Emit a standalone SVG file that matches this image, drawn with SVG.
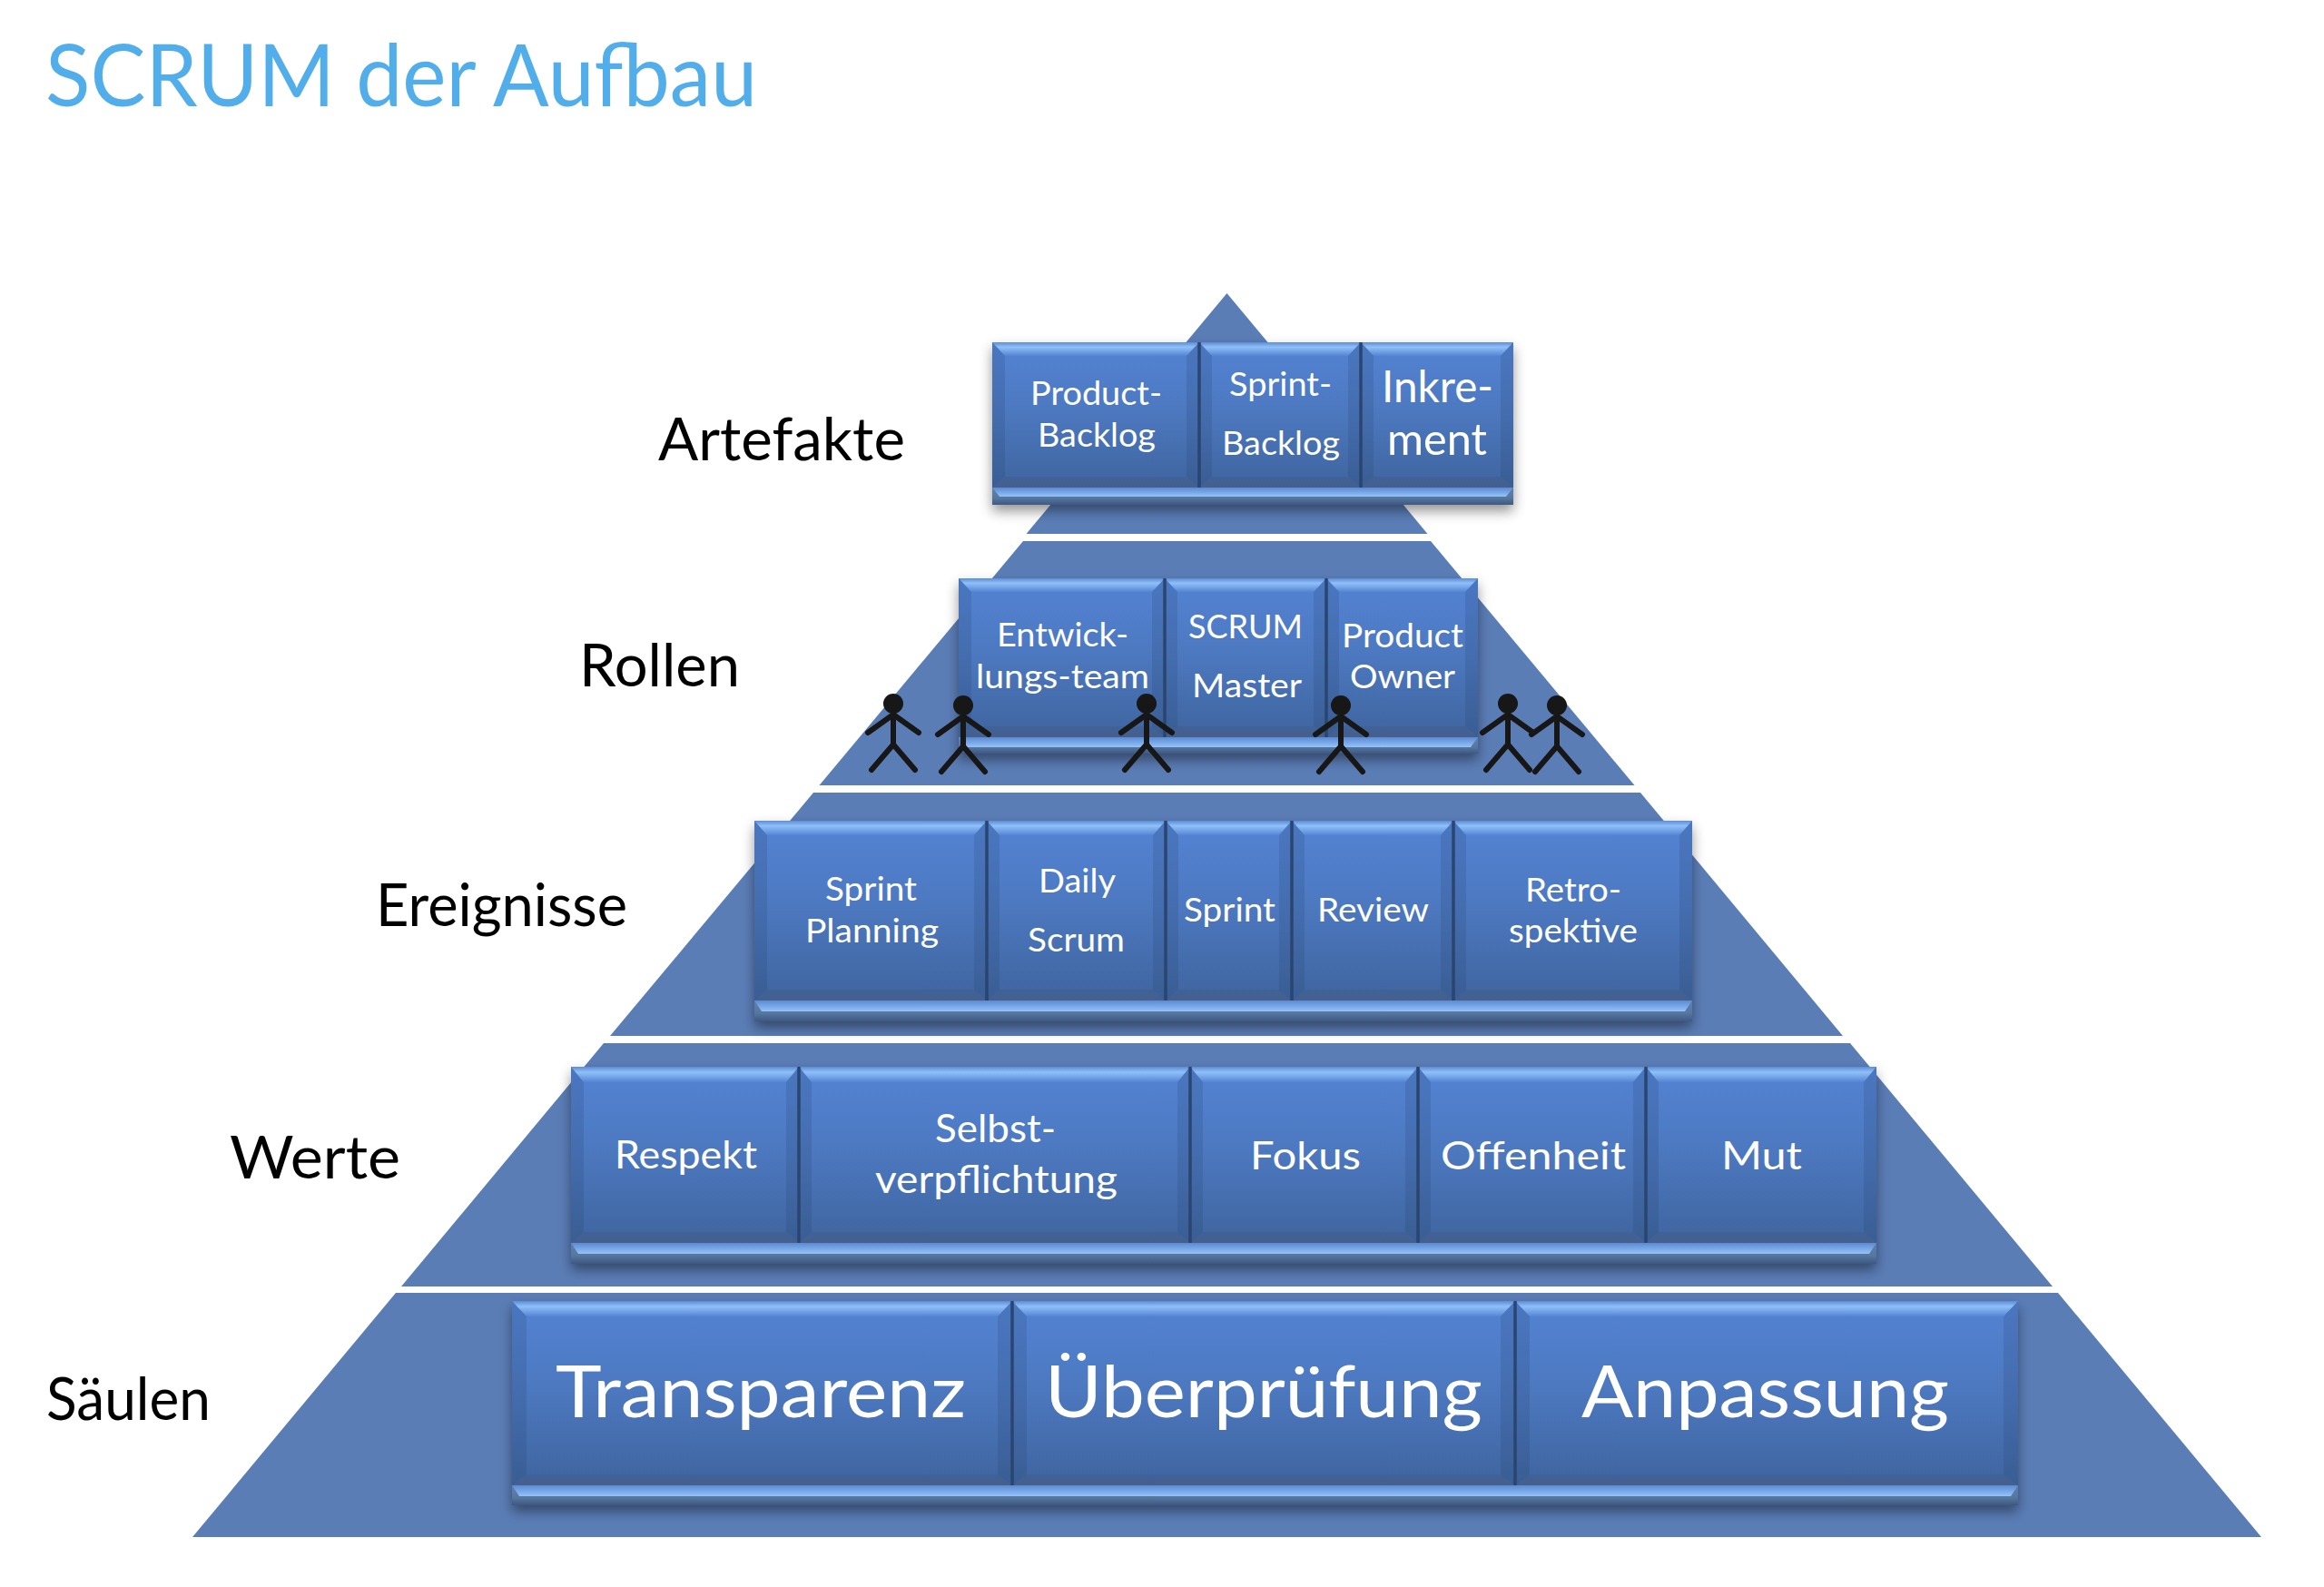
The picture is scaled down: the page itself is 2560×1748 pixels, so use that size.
<svg xmlns="http://www.w3.org/2000/svg" width="2560" height="1748" viewBox="0 0 2560 1748">
<defs>
<linearGradient id="gBody" x1="0" y1="0" x2="0" y2="1"><stop offset="0" stop-color="#5383d4"/><stop offset="0.45" stop-color="#4d79c1"/><stop offset="1" stop-color="#3f659f"/></linearGradient>
<linearGradient id="gTop" x1="0" y1="0" x2="0" y2="1"><stop offset="0" stop-color="#5c8cd6"/><stop offset="0.35" stop-color="#8fc0f8"/><stop offset="1" stop-color="#5585d3"/></linearGradient>
<linearGradient id="gBot" x1="0" y1="0" x2="0" y2="1"><stop offset="0" stop-color="#3f6299"/><stop offset="1" stop-color="#465f8c"/></linearGradient>
<linearGradient id="gShelf" x1="0" y1="0" x2="0" y2="1"><stop offset="0" stop-color="#5a8ad2"/><stop offset="1" stop-color="#95c2fa"/></linearGradient>
<linearGradient id="gShelfLow" x1="0" y1="0" x2="0" y2="1"><stop offset="0" stop-color="#5c7fb0"/><stop offset="0.6" stop-color="#56789f"/><stop offset="1" stop-color="#3d5883"/></linearGradient>
<filter id="shadow" x="-5%" y="-10%" width="110%" height="130%"><feDropShadow dx="0" dy="7" stdDeviation="7" flood-color="#000" flood-opacity="0.42"/></filter>
<g id="person"><circle cx="0" cy="0" r="11" class="head"/><path class="fig" d="M0 5V45M-28 32L0 12L28 32M-24 73L0 45L24 73"/></g>
</defs>
<style>
.body{fill:url(#gBody)}
.bt{fill:url(#gTop)}
.bb{fill:url(#gBot)}
.bs{fill:#1c3560;fill-opacity:.16}
.div{stroke:#2a4570;stroke-width:3.5}
.sh{fill:url(#gShelf)}
.sl{fill:url(#gShelfLow)}
.back{fill:#41679f;filter:url(#shadow)}
.seg{fill:#5b7db6}
.t{font-family:Lato,"Open Sans","Liberation Sans",sans-serif;fill:#fff;font-size:36px}
.m{font-size:43px}
.l{font-size:48px}
.x{font-size:80px}
.lab{font-family:Lato,"Open Sans","Liberation Sans",sans-serif;fill:#000;font-size:65px}
.title{font-family:Lato,"Open Sans","Liberation Sans",sans-serif;fill:#51aeea;font-size:95px}
.fig{fill:none;stroke:#171717;stroke-width:6;stroke-linecap:round;stroke-linejoin:round}
.head{fill:#171717}
</style>
<rect width="2560" height="1748" fill="#fff"/>
<text id="title" class="title" x="50" y="117" textLength="784" lengthAdjust="spacingAndGlyphs">SCRUM der Aufbau</text>
<g id="pyramid">
<polygon class="seg" points="1351.5,323 1572.5,588 1130.5,588"/>
<polygon class="seg" points="1127,596 1576,596 1800.5,865 902.5,865"/>
<polygon class="seg" points="896,873 1807,873 2030,1141 672,1141"/>
<polygon class="seg" points="665,1149 2038,1149 2261,1417 442,1417"/>
<polygon class="seg" points="436,1424 2267,1424 2491,1693 212,1693"/>
</g>
<g id="labels">
<text class="lab" x="725" y="507" textLength="272" lengthAdjust="spacingAndGlyphs">Artefakte</text>
<text class="lab" x="638" y="756" textLength="177" lengthAdjust="spacingAndGlyphs">Rollen</text>
<text class="lab" x="414" y="1020" textLength="277" lengthAdjust="spacingAndGlyphs">Ereignisse</text>
<text class="lab" x="253" y="1298" textLength="188" lengthAdjust="spacingAndGlyphs">Werte</text>
<text class="lab" x="51" y="1564" textLength="181" lengthAdjust="spacingAndGlyphs">Säulen</text>
</g>
<g id="row-artefakte">
<rect class="back" x="1093" y="377" width="574" height="179"/>
<rect class="sl" x="1093" y="537" width="574" height="19"/><polygon class="sh" points="1093,537 1667,537 1659,547 1101,547"/>
<g id="n-product-backlog"><rect class="body" x="1093" y="377" width="228" height="160"/><polygon class="bt" points="1093,377 1321,377 1307,392 1107,392"/><polygon class="bb" points="1093,537 1321,537 1307,525 1107,525"/><polygon class="bs" points="1093,377 1107,392 1107,525 1093,537"/><polygon class="bs" points="1321,377 1307,392 1307,525 1321,537"/>
<text class="t" x="1135" y="446" textLength="145" lengthAdjust="spacingAndGlyphs">Product-</text><text class="t" x="1143" y="492" textLength="130" lengthAdjust="spacingAndGlyphs">Backlog</text></g>
<g id="n-sprint-backlog"><rect class="body" x="1321" y="377" width="178" height="160"/><polygon class="bt" points="1321,377 1499,377 1485,392 1335,392"/><polygon class="bb" points="1321,537 1499,537 1485,525 1335,525"/><polygon class="bs" points="1321,377 1335,392 1335,525 1321,537"/><polygon class="bs" points="1499,377 1485,392 1485,525 1499,537"/>
<text class="t" x="1354" y="436" textLength="113" lengthAdjust="spacingAndGlyphs">Sprint-</text><text class="t" x="1346" y="501" textLength="130" lengthAdjust="spacingAndGlyphs">Backlog</text></g>
<g id="n-inkrement"><rect class="body" x="1499" y="377" width="168" height="160"/><polygon class="bt" points="1499,377 1667,377 1653,392 1513,392"/><polygon class="bb" points="1499,537 1667,537 1653,525 1513,525"/><polygon class="bs" points="1499,377 1513,392 1513,525 1499,537"/><polygon class="bs" points="1667,377 1653,392 1653,525 1667,537"/>
<text class="t l" x="1522" y="443" textLength="123" lengthAdjust="spacingAndGlyphs">Inkre-</text><text class="t l" x="1528" y="501" textLength="110" lengthAdjust="spacingAndGlyphs">ment</text></g>
<path class="div" d="M1321 377V537M1499 377V537"/>
</g>
<g id="row-rollen">
<rect class="back" x="1056" y="637" width="572" height="193"/>
<rect class="sl" x="1056" y="812" width="572" height="18"/><polygon class="sh" points="1056,812 1628,812 1620,823 1064,823"/>
<g id="n-entwicklungsteam"><rect class="body" x="1056" y="637" width="227" height="175"/><polygon class="bt" points="1056,637 1283,637 1269,652 1070,652"/><polygon class="bb" points="1056,812 1283,812 1269,800 1070,800"/><polygon class="bs" points="1056,637 1070,652 1070,800 1056,812"/><polygon class="bs" points="1283,637 1269,652 1269,800 1283,812"/>
<text class="t" x="1098" y="712" textLength="145" lengthAdjust="spacingAndGlyphs">Entwick-</text><text class="t" x="1075" y="758" textLength="191" lengthAdjust="spacingAndGlyphs">lungs-team</text></g>
<g id="n-scrum-master"><rect class="body" x="1283" y="637" width="178" height="175"/><polygon class="bt" points="1283,637 1461,637 1447,652 1297,652"/><polygon class="bb" points="1283,812 1461,812 1447,800 1297,800"/><polygon class="bs" points="1283,637 1297,652 1297,800 1283,812"/><polygon class="bs" points="1461,637 1447,652 1447,800 1461,812"/>
<text class="t" x="1309" y="703" textLength="126" lengthAdjust="spacingAndGlyphs">SCRUM</text><text class="t" x="1313" y="768" textLength="121" lengthAdjust="spacingAndGlyphs">Master</text></g>
<g id="n-product-owner"><rect class="body" x="1461" y="637" width="167" height="175"/><polygon class="bt" points="1461,637 1628,637 1614,652 1475,652"/><polygon class="bb" points="1461,812 1628,812 1614,800 1475,800"/><polygon class="bs" points="1461,637 1475,652 1475,800 1461,812"/><polygon class="bs" points="1628,637 1614,652 1614,800 1628,812"/>
<text class="t" x="1478" y="713" textLength="134" lengthAdjust="spacingAndGlyphs">Product</text><text class="t" x="1487" y="758" textLength="116" lengthAdjust="spacingAndGlyphs">Owner</text></g>
<path class="div" d="M1283 637V812M1461 637V812"/>
</g>
<g id="people">
<use href="#person" x="984" y="775"/><use href="#person" x="1061" y="777"/><use href="#person" x="1263" y="775"/><use href="#person" x="1477" y="777"/><use href="#person" x="1661" y="775"/><use href="#person" x="1715" y="777"/>
</g>
<g id="row-ereignisse">
<rect class="back" x="831" y="904" width="1033" height="221"/>
<rect class="sl" x="831" y="1102" width="1033" height="23"/><polygon class="sh" points="831,1102 1864,1102 1856,1114 839,1114"/>
<g id="n-sprint-planning"><rect class="body" x="831" y="904" width="256" height="198"/><polygon class="bt" points="831,904 1087,904 1073,920 845,920"/><polygon class="bb" points="831,1102 1087,1102 1073,1090 845,1090"/><polygon class="bs" points="831,904 845,920 845,1090 831,1102"/><polygon class="bs" points="1087,904 1073,920 1073,1090 1087,1102"/>
<text class="t" x="909" y="992" textLength="101" lengthAdjust="spacingAndGlyphs">Sprint</text><text class="t" x="887" y="1038" textLength="147" lengthAdjust="spacingAndGlyphs">Planning</text></g>
<g id="n-daily-scrum"><rect class="body" x="1087" y="904" width="197" height="198"/><polygon class="bt" points="1087,904 1284,904 1270,920 1101,920"/><polygon class="bb" points="1087,1102 1284,1102 1270,1090 1101,1090"/><polygon class="bs" points="1087,904 1101,920 1101,1090 1087,1102"/><polygon class="bs" points="1284,904 1270,920 1270,1090 1284,1102"/>
<text class="t" x="1144" y="983" textLength="85" lengthAdjust="spacingAndGlyphs">Daily</text><text class="t" x="1132" y="1048" textLength="107" lengthAdjust="spacingAndGlyphs">Scrum</text></g>
<g id="n-sprint"><rect class="body" x="1284" y="904" width="139" height="198"/><polygon class="bt" points="1284,904 1423,904 1409,920 1298,920"/><polygon class="bb" points="1284,1102 1423,1102 1409,1090 1298,1090"/><polygon class="bs" points="1284,904 1298,920 1298,1090 1284,1102"/><polygon class="bs" points="1423,904 1409,920 1409,1090 1423,1102"/>
<text class="t" x="1304" y="1015" textLength="101" lengthAdjust="spacingAndGlyphs">Sprint</text></g>
<g id="n-review"><rect class="body" x="1423" y="904" width="178" height="198"/><polygon class="bt" points="1423,904 1601,904 1587,920 1437,920"/><polygon class="bb" points="1423,1102 1601,1102 1587,1090 1437,1090"/><polygon class="bs" points="1423,904 1437,920 1437,1090 1423,1102"/><polygon class="bs" points="1601,904 1587,920 1587,1090 1601,1102"/>
<text class="t" x="1451" y="1015" textLength="123" lengthAdjust="spacingAndGlyphs">Review</text></g>
<g id="n-retrospektive"><rect class="body" x="1601" y="904" width="263" height="198"/><polygon class="bt" points="1601,904 1864,904 1850,920 1615,920"/><polygon class="bb" points="1601,1102 1864,1102 1850,1090 1615,1090"/><polygon class="bs" points="1601,904 1615,920 1615,1090 1601,1102"/><polygon class="bs" points="1864,904 1850,920 1850,1090 1864,1102"/>
<text class="t" x="1680" y="993" textLength="106" lengthAdjust="spacingAndGlyphs">Retro-</text><text class="t" x="1662" y="1038" textLength="142" lengthAdjust="spacingAndGlyphs">spektive</text></g>
<path class="div" d="M1087 904V1102M1284 904V1102M1423 904V1102M1601 904V1102"/>
</g>
<g id="row-werte">
<rect class="back" x="629" y="1175" width="1438" height="217"/>
<rect class="sl" x="629" y="1369" width="1438" height="23"/><polygon class="sh" points="629,1369 2067,1369 2059,1381 637,1381"/>
<g id="n-respekt"><rect class="body" x="629" y="1175" width="251" height="194"/><polygon class="bt" points="629,1175 880,1175 866,1192 643,1192"/><polygon class="bb" points="629,1369 880,1369 866,1357 643,1357"/><polygon class="bs" points="629,1175 643,1192 643,1357 629,1369"/><polygon class="bs" points="880,1175 866,1192 866,1357 880,1369"/>
<text class="t m" x="677" y="1287" textLength="157" lengthAdjust="spacingAndGlyphs">Respekt</text></g>
<g id="n-selbstverpflichtung"><rect class="body" x="880" y="1175" width="431" height="194"/><polygon class="bt" points="880,1175 1311,1175 1297,1192 894,1192"/><polygon class="bb" points="880,1369 1311,1369 1297,1357 894,1357"/><polygon class="bs" points="880,1175 894,1192 894,1357 880,1369"/><polygon class="bs" points="1311,1175 1297,1192 1297,1357 1311,1369"/>
<text class="t m" x="1030" y="1258" textLength="133" lengthAdjust="spacingAndGlyphs">Selbst-</text><text class="t m" x="964" y="1314" textLength="267" lengthAdjust="spacingAndGlyphs">verpflichtung</text></g>
<g id="n-fokus"><rect class="body" x="1311" y="1175" width="251" height="194"/><polygon class="bt" points="1311,1175 1562,1175 1548,1192 1325,1192"/><polygon class="bb" points="1311,1369 1562,1369 1548,1357 1325,1357"/><polygon class="bs" points="1311,1175 1325,1192 1325,1357 1311,1369"/><polygon class="bs" points="1562,1175 1548,1192 1548,1357 1562,1369"/>
<text class="t m" x="1377" y="1288" textLength="122" lengthAdjust="spacingAndGlyphs">Fokus</text></g>
<g id="n-offenheit"><rect class="body" x="1562" y="1175" width="251" height="194"/><polygon class="bt" points="1562,1175 1813,1175 1799,1192 1576,1192"/><polygon class="bb" points="1562,1369 1813,1369 1799,1357 1576,1357"/><polygon class="bs" points="1562,1175 1576,1192 1576,1357 1562,1369"/><polygon class="bs" points="1813,1175 1799,1192 1799,1357 1813,1369"/>
<text class="t m" x="1587" y="1288" textLength="204" lengthAdjust="spacingAndGlyphs">Offenheit</text></g>
<g id="n-mut"><rect class="body" x="1813" y="1175" width="254" height="194"/><polygon class="bt" points="1813,1175 2067,1175 2053,1192 1827,1192"/><polygon class="bb" points="1813,1369 2067,1369 2053,1357 1827,1357"/><polygon class="bs" points="1813,1175 1827,1192 1827,1357 1813,1369"/><polygon class="bs" points="2067,1175 2053,1192 2053,1357 2067,1369"/>
<text class="t m" x="1896" y="1288" textLength="89" lengthAdjust="spacingAndGlyphs">Mut</text></g>
<path class="div" d="M880 1175V1369M1311 1175V1369M1562 1175V1369M1813 1175V1369"/>
</g>
<g id="row-saeulen">
<rect class="back" x="564" y="1433" width="1659" height="225"/>
<rect class="sl" x="564" y="1636" width="1659" height="22"/><polygon class="sh" points="564,1636 2223,1636 2215,1648 572,1648"/>
<g id="n-transparenz"><rect class="body" x="564" y="1433" width="551" height="203"/><polygon class="bt" points="564,1433 1115,1433 1099,1450 580,1450"/><polygon class="bb" points="564,1636 1115,1636 1099,1624 580,1624"/><polygon class="bs" points="564,1433 580,1450 580,1624 564,1636"/><polygon class="bs" points="1115,1433 1099,1450 1099,1624 1115,1636"/>
<text class="t x" x="612" y="1561" textLength="452" lengthAdjust="spacingAndGlyphs">Transparenz</text></g>
<g id="n-ueberpruefung"><rect class="body" x="1115" y="1433" width="554" height="203"/><polygon class="bt" points="1115,1433 1669,1433 1653,1450 1131,1450"/><polygon class="bb" points="1115,1636 1669,1636 1653,1624 1131,1624"/><polygon class="bs" points="1115,1433 1131,1450 1131,1624 1115,1636"/><polygon class="bs" points="1669,1433 1653,1450 1653,1624 1669,1636"/>
<text class="t x" x="1151" y="1561" textLength="482" lengthAdjust="spacingAndGlyphs">Überprüfung</text></g>
<g id="n-anpassung"><rect class="body" x="1669" y="1433" width="554" height="203"/><polygon class="bt" points="1669,1433 2223,1433 2207,1450 1685,1450"/><polygon class="bb" points="1669,1636 2223,1636 2207,1624 1685,1624"/><polygon class="bs" points="1669,1433 1685,1450 1685,1624 1669,1636"/><polygon class="bs" points="2223,1433 2207,1450 2207,1624 2223,1636"/>
<text class="t x" x="1742" y="1561" textLength="405" lengthAdjust="spacingAndGlyphs">Anpassung</text></g>
<path class="div" d="M1115 1433V1636M1669 1433V1636"/>
</g>
<g id="connectors"/>
</svg>
